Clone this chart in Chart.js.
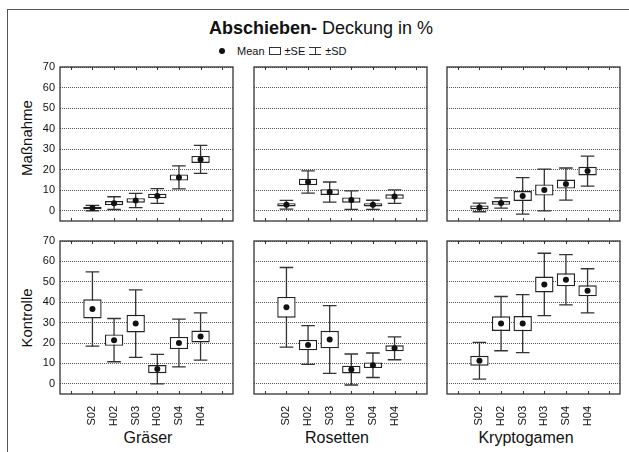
<!DOCTYPE html>
<html lang="de">
  <head>
    <meta charset="UTF-8" />
    <title>Abschieben - Deckung in %</title>
    <script src="https://cdn.jsdelivr.net/npm/chart.js"></script>
    <style>
      body {
        margin: 0;
        width: 629px;
        height: 452px;
        overflow: hidden;
        background: #fff;
        font-family: "Liberation Sans", Arial, sans-serif;
        color: #111;
        position: relative;
      }
      #frame {
        position: absolute;
        left: 7px;
        top: 9px;
        width: 660px;
        height: 480px;
        border-left: 1.5px solid #555;
        border-top: 1.5px solid #555;
      }
      canvas { position: absolute; }
      .txt { position: absolute; white-space: nowrap; }
      #title {
        left: 0; width: 642px; top: 18px;
        text-align: center; font-size: 18px; line-height: 20px;
      }
      #legend {
        position: absolute; left: 219px; top: 44px; height: 14px;
        display: flex; align-items: center; gap: 4px;
        font-size: 11px; line-height: 14px;
      }
      .rowlab {
        font-size: 15px; line-height: 18px;
        transform: translate(-50%, -50%) rotate(-90deg);
      }
      .collab {
        font-size: 16px; line-height: 18px; top: 429px;
        transform: translateX(-50%);
      }
    </style>
  </head>
  <body>
    <div id="frame"></div>
    <div class="txt" id="title"><b>Abschieben-</b> Deckung in %</div>

    <div id="legend">
      <div style="width:6px;height:6px;border-radius:50%;background:#111;margin-right:8px"></div>
      <span>Mean</span>
      <div style="width:12px;height:8px;box-sizing:border-box;border:1px solid #333"></div>
      <span>±SE</span>
      <div style="position:relative;width:12px;height:8px;box-sizing:border-box;border-top:1px solid #333;border-bottom:1px solid #333">
        <div style="position:absolute;left:5.5px;top:0;width:1px;height:6px;background:#333"></div>
      </div>
      <span>±SD</span>
    </div>

    <div class="txt rowlab" style="left:27px;top:138px">Maßnahme</div>
    <div class="txt rowlab" style="left:27px;top:318px">Kontrolle</div>
    <div class="txt collab" style="left:148px">Gräser</div>
    <div class="txt collab" style="left:337px">Rosetten</div>
    <div class="txt collab" style="left:526px">Kryptogamen</div>

    <canvas id="c00"></canvas>
    <canvas id="c01"></canvas>
    <canvas id="c02"></canvas>
    <canvas id="c10"></canvas>
    <canvas id="c11"></canvas>
    <canvas id="c12"></canvas>

    <script>
      const categories = ['S02', 'H02', 'S03', 'H03', 'S04', 'H04'];
      const yTicks = [0, 10, 20, 30, 40, 50, 60, 70];

      // Maßnahme
      const meanGraeserM = [1.3, 3.7, 5.0, 7.2, 16.2, 25.0];
      const seGraeserM = [0.6, 1.0, 1.1, 1.1, 1.5, 1.7];
      const sdGraeserM = [1.3, 3.1, 3.5, 3.6, 5.6, 6.8];

      const meanRosettenM = [2.9, 14.0, 9.1, 5.2, 2.9, 6.9];
      const seRosettenM = [0.8, 1.6, 1.4, 1.3, 0.8, 1.1];
      const sdRosettenM = [2.1, 5.4, 4.9, 4.5, 2.2, 3.3];

      const meanKryptoM = [1.6, 3.8, 7.2, 10.1, 13.0, 19.3];
      const seKryptoM = [1.0, 0.9, 2.4, 2.7, 2.2, 2.1];
      const sdKryptoM = [2.1, 2.5, 8.9, 10.2, 7.8, 7.3];

      // Kontrolle
      const meanGraeserK = [36.7, 21.4, 29.5, 7.2, 20.0, 23.2];
      const seGraeserK = [4.7, 2.8, 4.3, 2.0, 3.0, 2.9];
      const sdGraeserK = [18.2, 10.6, 16.5, 7.2, 11.7, 11.6];

      const meanRosettenK = [37.5, 19.0, 21.7, 7.0, 9.1, 17.4];
      const seRosettenK = [5.1, 2.6, 4.3, 1.9, 1.4, 1.5];
      const sdRosettenK = [19.5, 9.5, 16.6, 7.6, 6.0, 5.6];

      const meanKryptoK = [11.3, 29.5, 29.5, 48.7, 51.0, 45.6];
      const seKryptoK = [2.4, 3.6, 3.7, 3.9, 3.2, 2.7];
      const sdKryptoK = [9.0, 13.3, 14.2, 15.3, 12.3, 10.8];

      const FONT = '"Liberation Sans", Arial, sans-serif';
      const colLeft = [60, 254, 447];
      const rowTop = [67, 241];
      const plotW = 173;
      const plotH = [154, 153];
      const yAxisW = 40, padTop = 8, padRight = 6;
      const xAxisH = [6, 56];

      const pad = v => [null, ...v, null];

      // whiskers behind the boxes, frame and inner ticks on top
      const boxPlot = {
        id: 'boxPlot',
        beforeDatasetsDraw(chart, args, opts) {
          const { ctx, scales: { x, y } } = chart;
          const bars = chart.getDatasetMeta(1).data;
          ctx.save();
          ctx.strokeStyle = '#333';
          ctx.lineWidth = 1.3;
          opts.mean.forEach((m, i) => {
            if (m == null) return;
            const px = x.getPixelForValue(i);
            const hw = bars[i].width * 0.37;
            const top = y.getPixelForValue(m + opts.sd[i]);
            const bot = y.getPixelForValue(m - opts.sd[i]);
            ctx.beginPath();
            ctx.moveTo(px, top); ctx.lineTo(px, bot);
            ctx.moveTo(px - hw, top); ctx.lineTo(px + hw, top);
            ctx.moveTo(px - hw, bot); ctx.lineTo(px + hw, bot);
            ctx.stroke();
          });
          ctx.restore();
        },
        afterDraw(chart) {
          const { ctx, chartArea: a, scales: { x } } = chart;
          ctx.save();
          ctx.strokeStyle = '#333';
          ctx.lineWidth = 1.3;
          ctx.strokeRect(a.left, a.top, a.right - a.left, a.bottom - a.top);
          ctx.lineWidth = 1;
          ctx.beginPath();
          x.ticks.forEach((t, i) => {
            const px = Math.round(x.getPixelForValue(i)) + 0.5;
            ctx.moveTo(px, a.top); ctx.lineTo(px, a.top + 3);
            ctx.moveTo(px, a.bottom); ctx.lineTo(px, a.bottom - 3);
          });
          ctx.stroke();
          ctx.restore();
        }
      };

      function drawPanel(row, col, mean, se, sd) {
        const canvas = document.getElementById('c' + row + col);
        const w = yAxisW + plotW + padRight;
        const h = padTop + plotH[row] + xAxisH[row];
        canvas.width = w;
        canvas.height = h;
        canvas.style.left = (colLeft[col] - yAxisW) + 'px';
        canvas.style.top = (rowTop[row] - padTop) + 'px';
        const showX = row === 1, showY = col === 0;

        return new Chart(canvas, {
          type: 'bar',
          data: {
            labels: ['', ...categories, ''],
            datasets: [
              {
                type: 'line', data: pad(mean), showLine: false,
                pointRadius: 3, pointBackgroundColor: '#111', pointBorderWidth: 0, order: 0
              },
              {
                data: pad(mean.map((m, i) => [m - se[i], m + se[i]])),
                backgroundColor: '#fff', borderColor: '#222', borderWidth: 1.4,
                borderSkipped: false, barPercentage: 0.85, categoryPercentage: 1, order: 1
              }
            ]
          },
          options: {
            responsive: false,
            animation: false,
            layout: { padding: { top: padTop, right: padRight, left: 0, bottom: 0 } },
            plugins: {
              legend: { display: false },
              tooltip: { enabled: false },
              boxPlot: { mean: pad(mean), sd: pad(sd) }
            },
            scales: {
              x: {
                grid: { display: false },
                border: { display: false },
                ticks: {
                  display: showX, autoSkip: false, minRotation: 90, maxRotation: 90,
                  padding: 4, color: '#111', font: { size: 11, family: FONT }
                },
                afterFit: s => {
                  s.height = xAxisH[row];
                  s.paddingLeft = 0; s.paddingRight = 0;
                }
              },
              y: {
                min: -5, max: 70,
                afterBuildTicks: s => { s.ticks = yTicks.map(v => ({ value: v })); },
                grid: { color: '#555', lineWidth: 1, drawTicks: false },
                border: { display: false, dash: [1, 1] },
                ticks: { display: showY, padding: 5, color: '#111', font: { size: 11, family: FONT } },
                afterFit: s => {
                  s.width = yAxisW;
                  s.paddingTop = 0; s.paddingBottom = 0;
                }
              }
            }
          },
          plugins: [boxPlot]
        });
      }

      drawPanel(0, 0, meanGraeserM, seGraeserM, sdGraeserM);
      drawPanel(0, 1, meanRosettenM, seRosettenM, sdRosettenM);
      drawPanel(0, 2, meanKryptoM, seKryptoM, sdKryptoM);
      drawPanel(1, 0, meanGraeserK, seGraeserK, sdGraeserK);
      drawPanel(1, 1, meanRosettenK, seRosettenK, sdRosettenK);
      drawPanel(1, 2, meanKryptoK, seKryptoK, sdKryptoK);
    </script>
  </body>
</html>
